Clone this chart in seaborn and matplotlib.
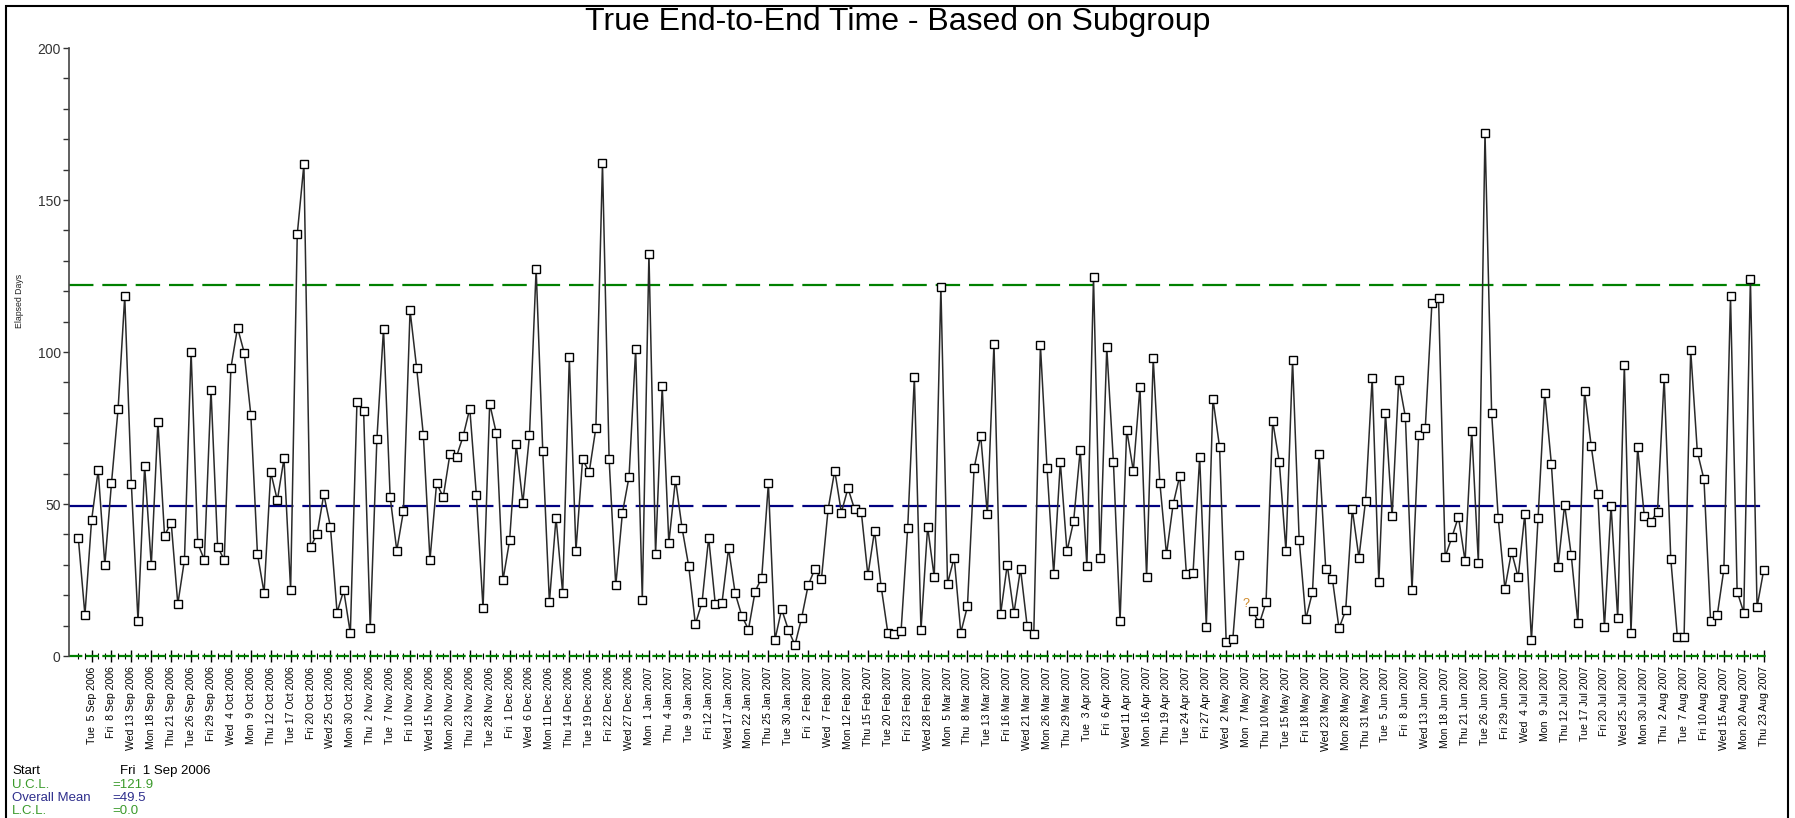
import numpy as np
import pandas as pd
import matplotlib
matplotlib.use("Agg")
import matplotlib.pyplot as plt
from matplotlib.patches import Rectangle
import seaborn as sns

# ---- data (one value per business day) ----
start_date = "2006-09-01"
end_date = "2007-08-23"
elapsed_days = [
    38.9, 13.5, 44.6, 61.1, 30.0, 56.8, 81.3, 118.3, 56.5, 11.5,
    62.5, 29.8, 77.0, 39.6, 43.9, 17.1, 31.6, 100.1, 37.1, 31.6,
    87.6, 35.9, 31.6, 94.8, 108.0, 99.8, 79.4, 33.6, 20.8, 60.5,
    51.2, 65.0, 21.8, 138.7, 161.7, 35.9, 40.1, 53.2, 42.5, 14.3,
    21.6, 7.5, 83.6, 80.6, 9.1, 71.3, 107.6, 52.3, 34.7, 47.6,
    113.7, 94.6, 72.7, 31.6, 56.8, 52.3, 66.3, 65.6, 72.3, 81.4,
    52.8, 15.7, 83.0, 73.3, 24.9, 38.0, 69.6, 50.3, 72.7, 127.4,
    67.5, 17.7, 45.5, 20.6, 98.2, 34.7, 64.7, 60.5, 75.0, 162.1,
    64.7, 23.2, 47.0, 58.9, 101.0, 18.5, 132.3, 33.5, 88.7, 37.2,
    58.0, 42.0, 29.5, 10.5, 17.6, 38.9, 17.1, 17.3, 35.4, 20.6,
    13.2, 8.7, 21.2, 25.8, 56.8, 5.4, 15.4, 8.7, 3.6, 12.4,
    23.3, 28.6, 25.4, 48.2, 61.0, 47.2, 55.2, 48.2, 47.5, 26.5,
    41.2, 22.8, 7.7, 7.4, 8.2, 42.2, 91.8, 8.7, 42.5, 25.9,
    121.4, 23.8, 32.4, 7.7, 16.3, 61.7, 72.5, 46.6, 102.7, 13.8,
    30.0, 14.0, 28.7, 9.9, 7.3, 102.2, 61.7, 27.0, 63.8, 34.4,
    44.3, 67.8, 29.5, 124.7, 32.2, 101.5, 63.8, 11.5, 74.4, 60.9,
    88.4, 25.9, 97.9, 57.0, 33.4, 49.9, 59.3, 27.0, 27.3, 65.4,
    9.7, 84.6, 68.7, 4.5, 5.7, 33.1, np.nan, 14.8, 10.7, 17.6,
    77.3, 63.8, 34.7, 97.3, 38.0, 12.2, 21.0, 66.6, 28.6, 25.4,
    9.1, 15.0, 48.3, 32.3, 51.1, 91.5, 24.3, 79.9, 45.9, 90.7,
    78.7, 21.6, 72.7, 75.0, 116.1, 117.7, 32.6, 39.0, 45.8, 31.2,
    74.1, 30.7, 172.2, 79.9, 45.3, 22.2, 34.3, 25.9, 46.7, 5.2,
    45.5, 86.6, 63.3, 29.2, 49.8, 33.1, 11.0, 87.2, 69.2, 53.2,
    9.4, 49.5, 12.4, 95.8, 7.7, 68.7, 46.2, 44.2, 47.5, 91.5,
    31.9, 6.1, 6.1, 100.6, 67.2, 58.1, 11.5, 13.4, 28.5, 118.3,
    21.2, 14.3, 124.0, 16.1, 28.2,
]
ucl = 121.9
overall_mean = 49.5
lcl = 0.0
missing_mark_value = 17.0   # where the "?" sits for the missing subgroup

legend_names = ["Start", "U.C.L.", "Overall Mean", "L.C.L."]
legend_values = ["Fri  1 Sep 2006", "=121.9", "=49.5", "=0.0"]

dates = pd.bdate_range(start_date, end_date)
date_labels = [f"{d:%a} {d.day:>2} {d:%b %Y}" for d in dates]

df = pd.DataFrame({"idx": np.arange(len(elapsed_days)), "days": elapsed_days})
df["segment"] = df["days"].isna().cumsum()

# ---- style ----
sns.set_theme(style="white")
plt.rcParams["font.family"] = ["Liberation Sans", "DejaVu Sans"]

W, H = 1795, 818
fig = plt.figure(figsize=(W / 100, H / 100), dpi=100)
ax = fig.add_axes([69 / W, 1 - 656 / H, 1698 / W, 608 / H])

green = "#008000"
navy = "#000080"

ax.axhline(ucl, color=green, lw=1.6, dashes=(11, 4), zorder=1)
ax.axhline(overall_mean, color=navy, lw=1.6, dashes=(11, 4), zorder=1)
ax.axhline(lcl, color=green, lw=1.6, dashes=(6, 1.5), zorder=1, clip_on=False)

sns.lineplot(
    data=df.dropna(), x="idx", y="days", units="segment", estimator=None,
    color="#2a2a2a", linewidth=1.1, marker="s", markersize=5.8,
    markerfacecolor="white", markeredgecolor="black", markeredgewidth=1.0,
    ax=ax, legend=False, zorder=3, clip_on=False,
)

# missing subgroup marker
for i in df.index[df["days"].isna()]:
    ax.text(i, missing_mark_value, "?", color="#d08a2a", fontsize=9,
            ha="center", va="center")

ax.set_xlim(-1.4, len(elapsed_days) - 0.5)
ax.set_ylim(0, 200)

# x axis: a tick per subgroup, labels every third one
major_idx = list(range(2, len(date_labels), 3))
ax.set_xticks(major_idx)
ax.set_xticklabels([date_labels[i] for i in major_idx], rotation=90,
                   fontsize=7.6, color="black")
ax.set_xticks(range(len(date_labels)), minor=True)
ax.tick_params(axis="x", which="major", direction="inout", length=9,
               width=1.0, color="black", pad=3, bottom=True)
ax.tick_params(axis="x", which="minor", direction="inout", length=5,
               width=0.8, color="black", bottom=True)

ax.set_yticks([0, 50, 100, 150, 200])
ax.set_yticks(range(0, 201, 10), minor=True)
ax.tick_params(axis="y", which="both", direction="out", length=4,
               width=1.0, color="#333333", left=True, labelsize=10,
               labelcolor="#333333", pad=2)

ax.set_xlabel("")
ax.set_ylabel("")
for side in ["top", "right", "bottom"]:
    ax.spines[side].set_visible(False)
ax.spines["left"].set_color("#444444")
ax.spines["left"].set_linewidth(1.2)

fig.text(19 / W, 1 - 301 / H, "Elapsed Days", rotation=90, fontsize=6.3,
         ha="center", va="center", color="#222222")

fig.suptitle("True End-to-End Time - Based on Subgroup", x=0.5,
             y=1 - 22 / H, va="center", fontsize=23, color="black")

# bottom-left summary block
colors = ["black", "#3a9a2a", "#2e2e8c", "#3a9a2a"]
rows_y = [771, 785, 798, 811]
for name, val, c, yy in zip(legend_names, legend_values, colors, rows_y):
    fig.text(12 / W, 1 - yy / H, name, fontsize=9.5, color=c, va="center")
    vx = 120 if name == "Start" else 112
    fig.text(vx / W, 1 - yy / H, val, fontsize=9.5, color=c, va="center")

# frame around the whole picture
fig.patches.append(Rectangle((6 / W, -0.02), (1788 - 6) / W, 1 - 6 / H + 0.02,
                             transform=fig.transFigure, fill=False,
                             edgecolor="black", linewidth=1.5))

fig.savefig("out.png", dpi=100)
